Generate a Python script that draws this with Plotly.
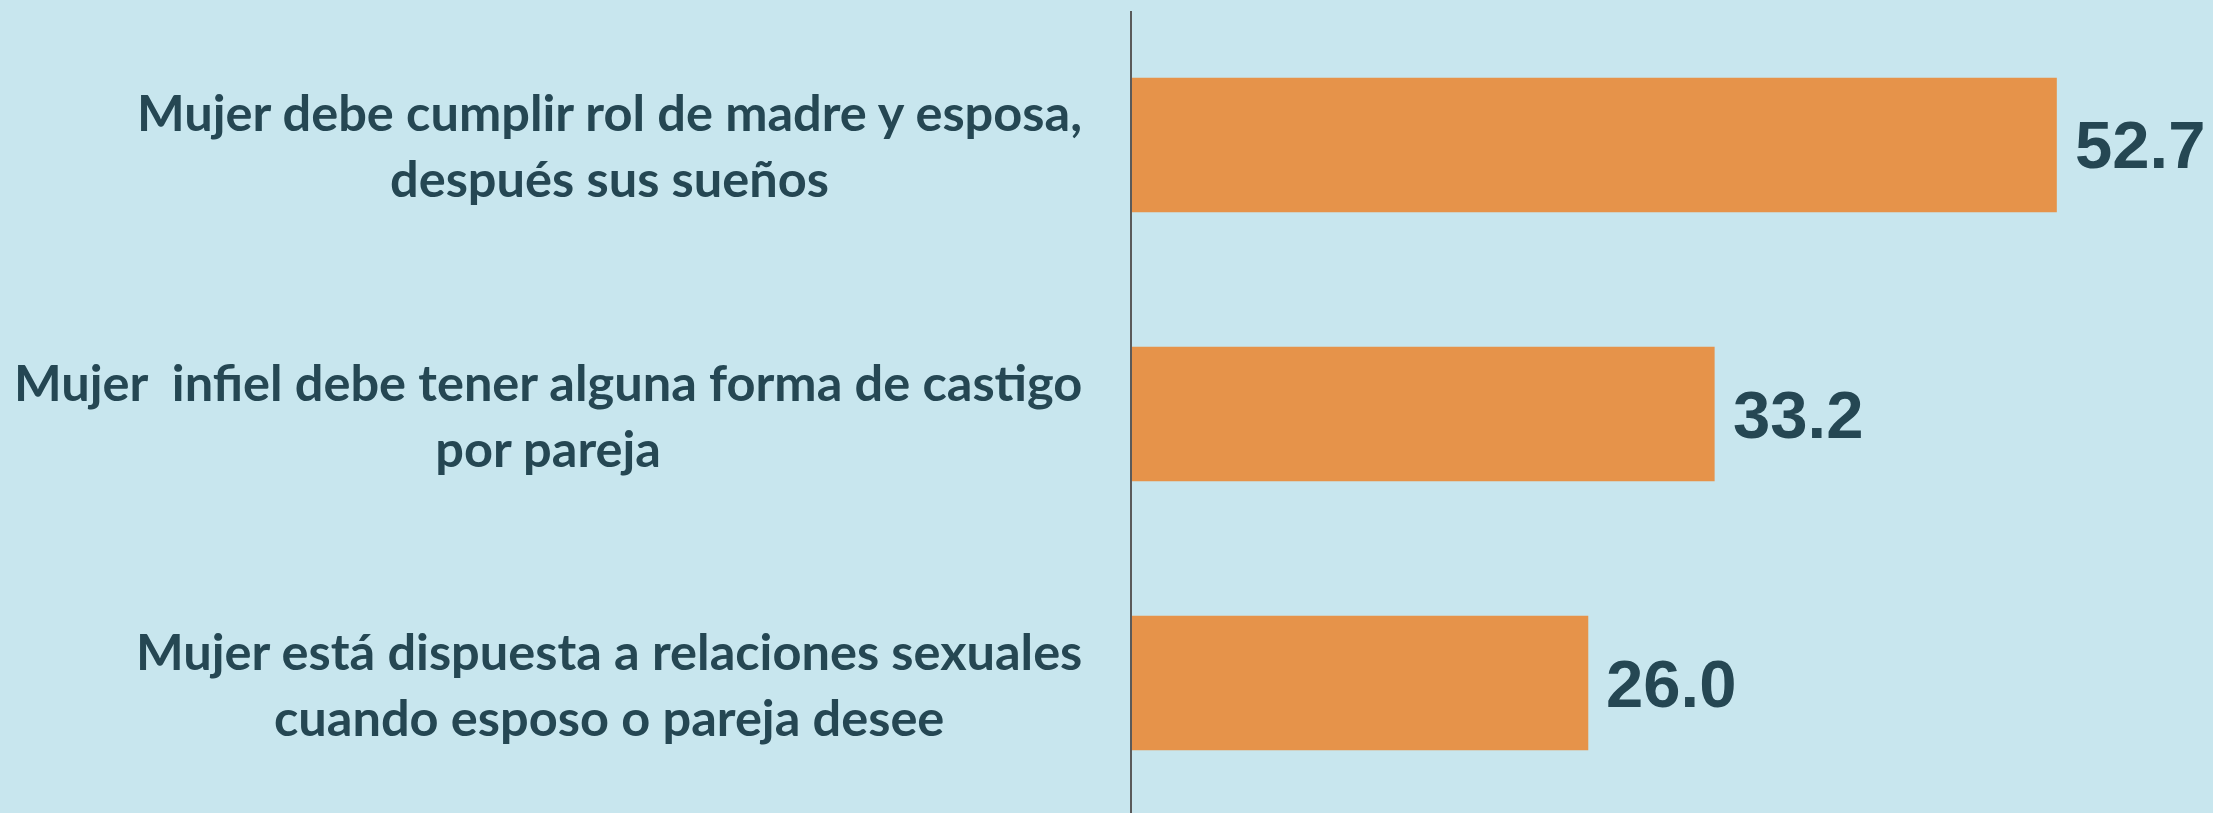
import plotly.graph_objects as go

label_lines = [
    ["Mujer debe cumplir rol de madre y esposa,", "después sus sueños"],
    ["Mujer  infiel debe tener alguna forma de castigo", "por pareja"],
    ["Mujer está dispuesta a relaciones sexuales", "cuando esposo o pareja desee"],
]
values = [52.7, 33.2, 26.0]
value_labels = ["52.7", "33.2", "26.0"]

BG = "#C8E6EE"
BAR = "#E6934A"
TXT = "#254753"
pos = list(range(len(values)))

fig = go.Figure()
fig.add_trace(go.Bar(
    x=values, y=pos, orientation="h", width=0.5,
    marker=dict(color=BAR, line=dict(width=0)),
    hoverinfo="skip",
))

LABEL_FONT = dict(family="Lato, DejaVu Sans Condensed, sans-serif", size=50.5, color=TXT, weight="bold")
for p, lines, v, lab in zip(pos, label_lines, values, value_labels):
    fig.add_annotation(
        x=0, y=p, xref="x", yref="y",
        text=lines[0] + "<br>" + lines[1], showarrow=False,
        xanchor="right", yanchor="middle", align="center", xshift=-48,
        font=LABEL_FONT,
    )
    fig.add_annotation(
        x=v, y=p, xref="x", yref="y", text=lab, showarrow=False,
        xanchor="left", yanchor="middle", xshift=16,
        font=dict(family="Liberation Sans, Arial, sans-serif", size=67, color=TXT, weight="bold"),
    )

fig.update_layout(
    width=2213, height=813,
    margin=dict(l=1132, r=0, t=11, b=0),
    paper_bgcolor=BG, plot_bgcolor=BG,
    showlegend=False,
    xaxis=dict(range=[0, 61.6], visible=False, fixedrange=True),
    yaxis=dict(range=[2.483, -0.498], showticklabels=False, ticks="", showgrid=False,
               zeroline=False, showline=True, linecolor="#5A5A5A", linewidth=2, fixedrange=True),
)

fig.write_html(
    "out.html",
    config={"displayModeBar": False},
    post_script="document.body.style.margin='0';document.body.style.overflow='hidden';",
)
